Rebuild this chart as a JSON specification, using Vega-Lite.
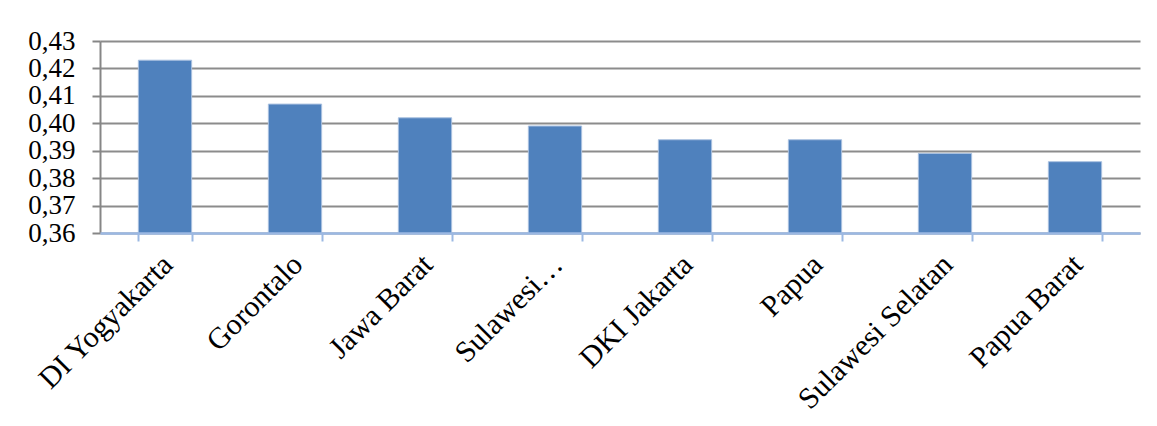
{
  "$schema": "https://vega.github.io/schema/vega-lite/v6.json",
  "autosize": "none",
  "width": 1040,
  "height": 192,
  "padding": {"left": 100, "top": 41, "right": 17, "bottom": 193},
  "background": "#ffffff",
  "config": {
    "view": {"stroke": null},
    "font": "Liberation Serif"
  },
  "data": {
    "values": [
      {"provinsi": "DI Yogyakarta", "nilai": 0.423},
      {"provinsi": "Gorontalo", "nilai": 0.407},
      {"provinsi": "Jawa Barat", "nilai": 0.402},
      {"provinsi": "Sulawesi…", "nilai": 0.399},
      {"provinsi": "DKI Jakarta", "nilai": 0.394},
      {"provinsi": "Papua", "nilai": 0.394},
      {"provinsi": "Sulawesi Selatan", "nilai": 0.389},
      {"provinsi": "Papua Barat", "nilai": 0.386}
    ]
  },
  "mark": {"type": "bar", "color": "#4F81BD", "stroke": "#A9C0E0", "strokeWidth": 1, "clip": true},
  "encoding": {
    "x": {
      "field": "provinsi",
      "type": "nominal",
      "sort": null,
      "scale": {"paddingInner": 0.59, "paddingOuter": 0.295},
      "axis": {
        "title": null,
        "labelAngle": -45,
        "labelAlign": "right",
        "labelBaseline": "top",
        "labelFont": "Liberation Serif",
        "labelFontSize": 30,
        "labelColor": "#000000",
        "labelOffset": -8,
        "labelPadding": 8,
        "labelLimit": 400,
        "labelOverlap": false,
        "domainColor": "#9BB8E3",
        "domainWidth": 2.5,
        "tickColor": "#9BB8E3",
        "tickWidth": 2,
        "tickSize": 8,
        "tickBand": "extent",
        "grid": false,
        "zindex": 1
      }
    },
    "y": {
      "field": "nilai",
      "type": "quantitative",
      "scale": {"domain": [0.36, 0.43], "zero": false, "nice": false},
      "axis": {
        "title": null,
        "values": [0.36, 0.37, 0.38, 0.39, 0.40, 0.41, 0.42, 0.43],
        "labelExpr": "replace(format(datum.value, '.2f'), '.', ',')",
        "labelFont": "Liberation Serif",
        "labelFontSize": 27,
        "labelColor": "#000000",
        "labelPadding": 17,
        "labelBaseline": "middle",
        "labelOverlap": false,
        "domainColor": "#868686",
        "domainWidth": 2,
        "tickColor": "#868686",
        "tickWidth": 2,
        "tickSize": 8,
        "grid": true,
        "gridColor": "#8C8C8C",
        "gridWidth": 2,
        "labelFlush": false
      }
    }
  }
}
